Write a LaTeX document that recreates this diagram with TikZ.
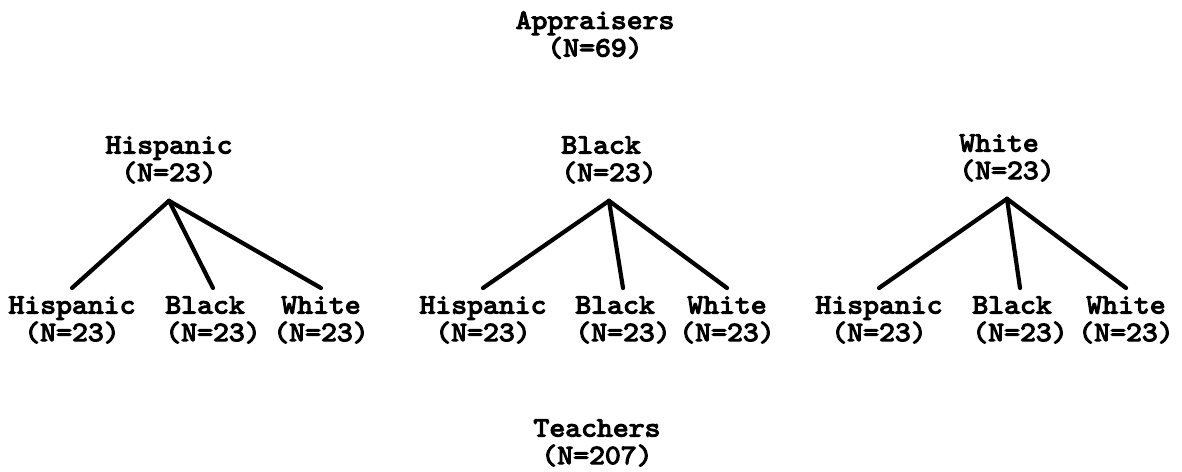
\documentclass[tikz,border=0pt]{standalone}
\usepackage{fontspec}
\newfontfamily\tw{lmmono10-regular.otf}[FakeBold=4,FakeStretch=1.08]
\newcommand\twfont{\tw\fontsize{14}{13.8}\selectfont\lineskiplimit=-20pt\relax}
\begin{document}
\begin{tikzpicture}[x=0.5pt,y=-0.5pt,
  lbl/.style={font=\twfont, inner sep=0pt, anchor=north, align=center},
  lbll/.style={lbl, align=left},
  branch/.style={line width=2.1pt, line cap=round}]
\useasboundingbox (0,0) rectangle (1182,471);
% top and bottom titles
\node[lbl] (app) at (595,11) {Appraisers\\(N=69)};
\node[lbl] (tea) at (597,419) {Teachers\\(N=207)};
% parents
\node[lbl]  (ph) at (169,136) {Hispanic\\(N=23)};
\node[lbll] (pb) at (609,136) {Black\\(N=23)};
\node[lbll] (pw) at (1007,134) {White\\(N=23)};
% children
\node[lbl]  (h1) at (72,296) {Hispanic\\(N=23)};
\node[lbll] (h2) at (213,296) {Black\\(N=23)};
\node[lbl]  (h3) at (321,296) {White\\(N=23)};
\node[lbl]  (b1) at (483,296) {Hispanic\\(N=23)};
\node[lbll] (b2) at (623,296) {Black\\(N=23)};
\node[lbl]  (b3) at (727,296) {White\\(N=23)};
\node[lbl]  (w1) at (879,296) {Hispanic\\(N=23)};
\node[lbll] (w2) at (1020,296) {Black\\(N=23)};
\node[lbl]  (w3) at (1126,296) {White\\(N=23)};
% branches
\foreach \p/\c in {ph/h1,ph/h2,ph/h3,pb/b1,pb/b2,pb/b3,pw/w1,pw/w2,pw/w3}
  \draw[branch] ([yshift=-8.5pt]\p.south) -- ([yshift=4pt]\c.north);
\end{tikzpicture}
\end{document}
